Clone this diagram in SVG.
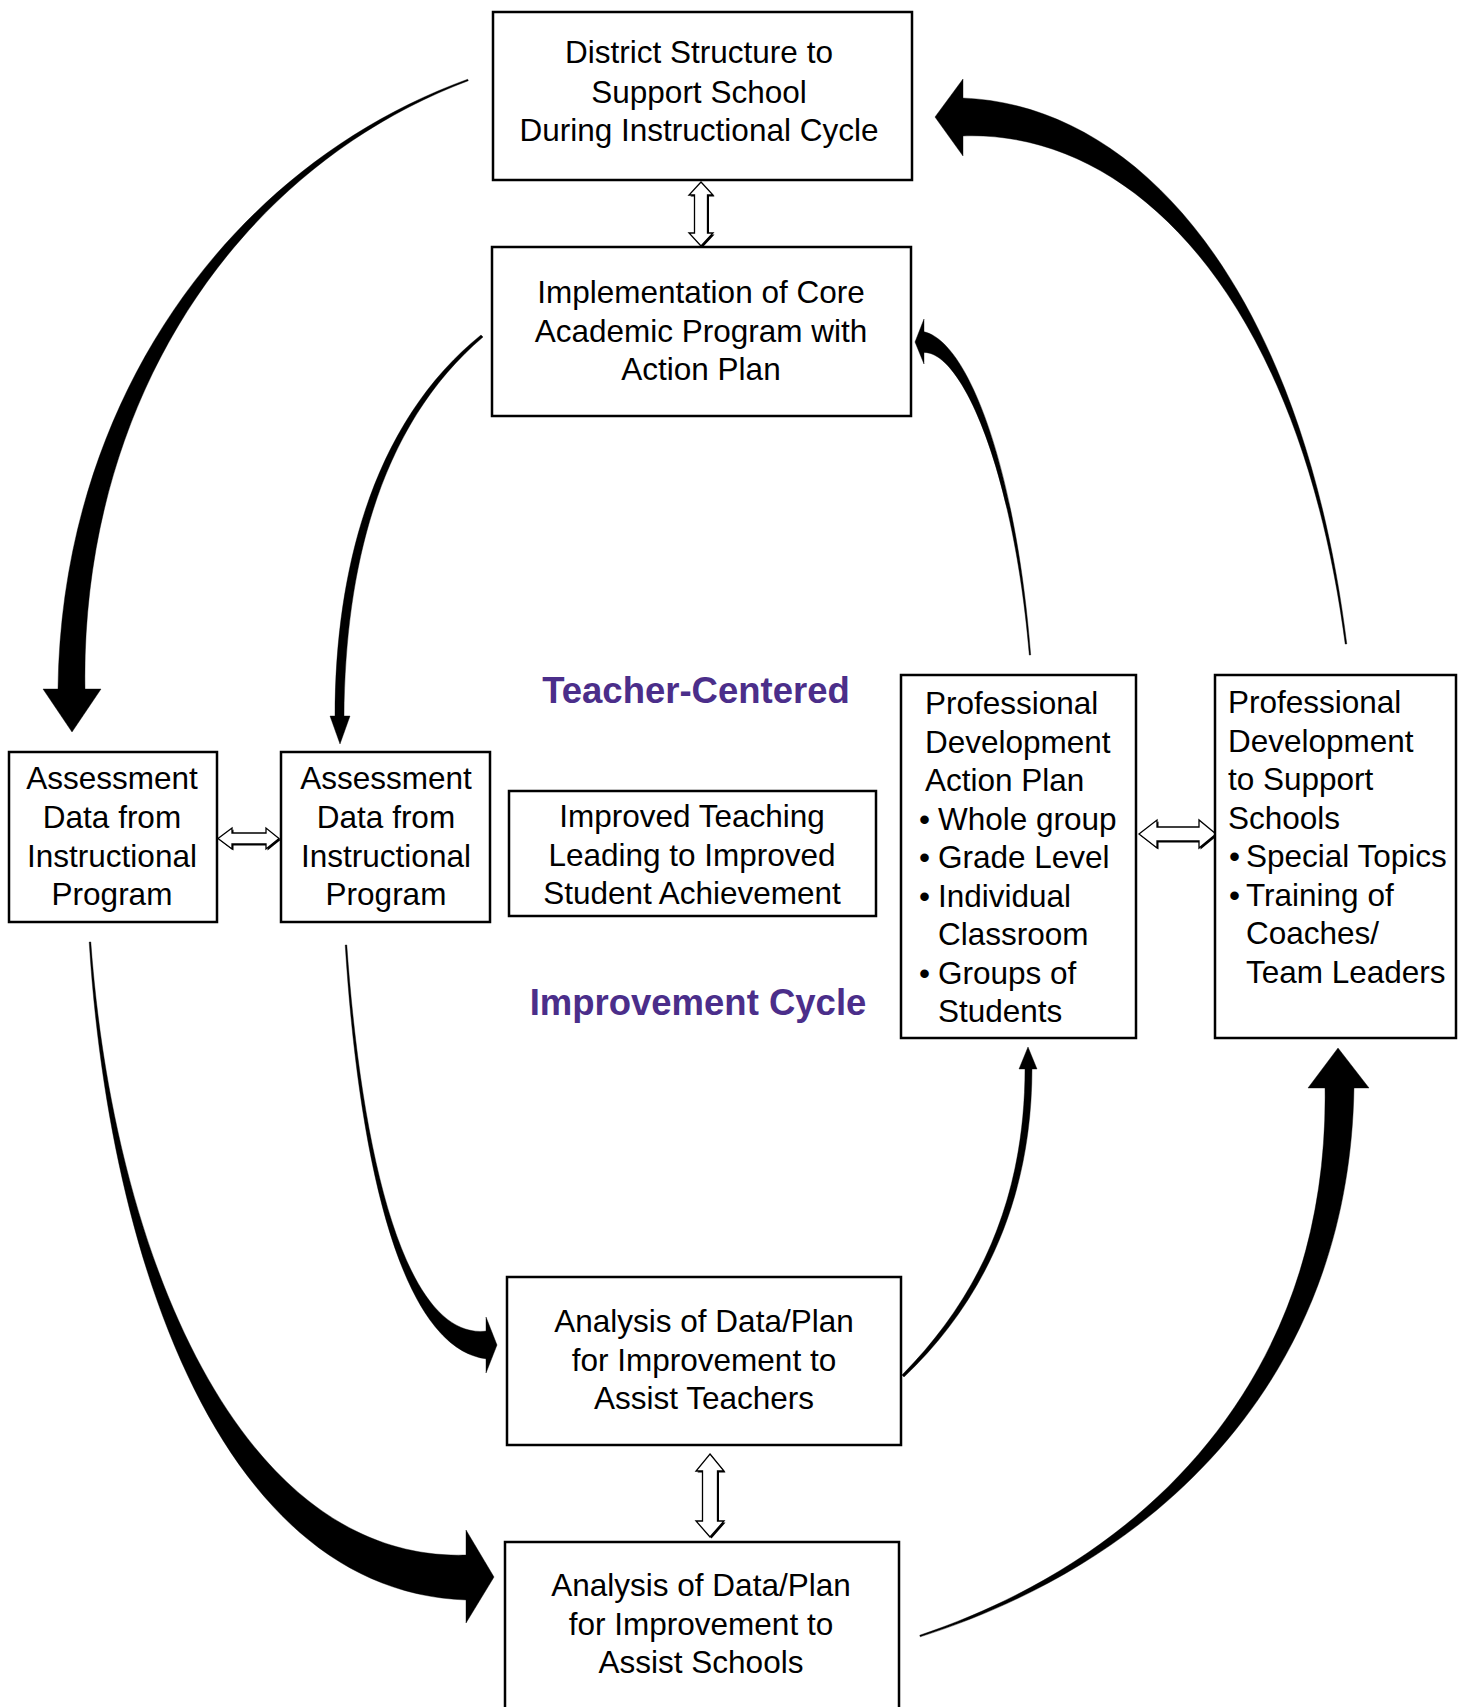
<svg xmlns="http://www.w3.org/2000/svg" width="1466" height="1707" viewBox="0 0 1466 1707">
<style>
.box{fill:#fff;stroke:#000;stroke-width:2.5}
.t{font-family:"Liberation Sans",Arial,sans-serif;font-size:31.5px;fill:#000}
.c{text-anchor:middle}
.p{font-family:"Liberation Sans",Arial,sans-serif;font-size:36.5px;font-weight:bold;fill:#4B2E8A;text-anchor:middle}
.arr{fill:#000;stroke:#000;stroke-width:0.4}
.dbl{fill:#fff;stroke:#000;stroke-width:1.3;stroke-linejoin:miter}
.sh{fill:#000}
</style>
<rect width="1466" height="1707" fill="#fff"/>
<g id="connectors">
  <!-- District -> Assessment 1 -->
  <path class="arr" d="M467.7,79.25 C228.5,166 61.4,402.1 58,689 L85,689 C80.6,407.9 231.5,170 468.3,80.75 Z"/>
  <polygon class="arr" points="43,689 101,689 72,732"/>
  <!-- Implementation -> Assessment 2 -->
  <path class="arr" d="M481,335 C378,418 335,560 335,717 L344,717 C345,560 383,422 483,337 Z"/>
  <polygon class="arr" points="330,716 350,716 340,744"/>
  <!-- PD Action Plan -> Implementation -->
  <path class="arr" d="M1030.7,654.9 C1016.2,469.7 968.5,340.2 923,331.5 L923,352.5 C961.5,349.8 1013.8,470.3 1029.3,655.1 Z"/>
  <polygon class="arr" points="915,342 924,319 924,364"/>
  <!-- PD Support -> District -->
  <path class="arr" d="M1346.8,643.9 C1303.8,299.2 1145.5,104.9 962,98 L962,136 C1134.5,129.1 1300.2,300.8 1345.2,644.1 Z"/>
  <polygon class="arr" points="935,117 963,79 963,156"/>
  <!-- Assessment 1 -> Analysis Schools -->
  <path class="arr" d="M89.2,942.05 C108.6,1255.5 219.7,1592.3 467,1600 L467,1555 C240.3,1562.7 113.4,1254.5 90.8,941.95 Z"/>
  <polygon class="arr" points="466,1530 466,1623 494,1577"/>
  <!-- Assessment 2 -> Analysis Teachers -->
  <path class="arr" d="M345.2,945.05 C358.5,1155.2 399.1,1348.7 487,1359 L487,1331 C404.9,1341.3 361.5,1154.8 346.8,944.95 Z"/>
  <polygon class="arr" points="486,1317 486,1373 497,1345"/>
  <!-- Analysis Teachers -> PD Action Plan -->
  <path class="arr" d="M904,1377 C983,1302 1032,1200 1032,1068 L1025,1068 C1025,1200 978,1298 902,1375 Z"/>
  <polygon class="arr" points="1019,1069 1037,1069 1028,1047"/>
  <!-- Analysis Schools -> PD Support -->
  <path class="arr" d="M920.25,1636.8 C1151.5,1563.6 1349.6,1384.3 1354,1087 L1325,1087 C1329.4,1375.7 1148.5,1558.4 919.75,1635.2 Z"/>
  <polygon class="arr" points="1308,1088 1369,1088 1338,1048"/>
  <!-- hollow double arrows -->
  <g transform="translate(1.5,1.5)">
    <polygon class="sh" points="701,182 713,195 707.5,195 707.5,233 713,233 701,246 689,233 694.5,233 694.5,195 689,195"/>
    <polygon class="sh" points="218,838.5 232,828 232,833 266,833 266,828 279,838.5 266,849 266,844 232,844 232,849"/>
    <polygon class="sh" points="1139,834 1157,820 1157,827 1199,827 1199,820 1216,834 1199,848 1199,841 1157,841 1157,848"/>
    <polygon class="sh" points="710,1454 724,1471 717.5,1471 717.5,1521 724,1521 710,1537 696,1521 702.5,1521 702.5,1471 696,1471"/>
  </g>
  <polygon class="dbl" points="701,182 713,195 707.5,195 707.5,233 713,233 701,246 689,233 694.5,233 694.5,195 689,195"/>
  <polygon class="dbl" points="218,838.5 232,828 232,833 266,833 266,828 279,838.5 266,849 266,844 232,844 232,849"/>
  <polygon class="dbl" points="1139,834 1157,820 1157,827 1199,827 1199,820 1216,834 1199,848 1199,841 1157,841 1157,848"/>
  <polygon class="dbl" points="710,1454 724,1471 717.5,1471 717.5,1521 724,1521 710,1537 696,1521 702.5,1521 702.5,1471 696,1471"/>
</g>
<g id="district">
  <rect class="box" x="493" y="12" width="419" height="168"/>
  <text class="t c" x="699" y="63">District Structure to</text>
  <text class="t c" x="699" y="102.5">Support School</text>
  <text class="t c" x="699" y="141">During Instructional Cycle</text>
</g>
<g id="implementation">
  <rect class="box" x="492" y="247" width="419" height="169"/>
  <text class="t c" x="701" y="303">Implementation of Core</text>
  <text class="t c" x="701" y="341.5">Academic Program with</text>
  <text class="t c" x="701" y="380">Action Plan</text>
</g>
<g id="assessment1">
  <rect class="box" x="9" y="752" width="208" height="170"/>
  <text class="t c" x="112" y="789">Assessment</text>
  <text class="t c" x="112" y="828">Data from</text>
  <text class="t c" x="112" y="866.5">Instructional</text>
  <text class="t c" x="112" y="905">Program</text>
</g>
<g id="assessment2">
  <rect class="box" x="281" y="752" width="209" height="170"/>
  <text class="t c" x="386" y="789">Assessment</text>
  <text class="t c" x="386" y="828">Data from</text>
  <text class="t c" x="386" y="866.5">Instructional</text>
  <text class="t c" x="386" y="905">Program</text>
</g>
<g id="improved">
  <rect class="box" x="509" y="791" width="367" height="125"/>
  <text class="t c" x="692" y="827">Improved Teaching</text>
  <text class="t c" x="692" y="865.5">Leading to Improved</text>
  <text class="t c" x="692" y="904">Student Achievement</text>
</g>
<g id="labels">
  <text class="p" x="696" y="703">Teacher-Centered</text>
  <text class="p" x="698" y="1015">Improvement Cycle</text>
</g>
<g id="pd-action-plan">
  <rect class="box" x="901" y="675" width="235" height="363"/>
  <text class="t" x="925" y="714">Professional</text>
  <text class="t" x="925" y="752.5">Development</text>
  <text class="t" x="925" y="791">Action Plan</text>
  <text class="t" y="829.5"><tspan x="919">•</tspan><tspan x="938">Whole group</tspan></text>
  <text class="t" y="868"><tspan x="919">•</tspan><tspan x="938">Grade Level</tspan></text>
  <text class="t" y="906.5"><tspan x="919">•</tspan><tspan x="938">Individual</tspan></text>
  <text class="t" x="938" y="945">Classroom</text>
  <text class="t" y="983.5"><tspan x="919">•</tspan><tspan x="938">Groups of</tspan></text>
  <text class="t" x="938" y="1022">Students</text>
</g>
<g id="pd-support">
  <rect class="box" x="1215" y="675" width="241" height="363"/>
  <text class="t" x="1228" y="713">Professional</text>
  <text class="t" x="1228" y="751.5">Development</text>
  <text class="t" x="1228" y="790">to Support</text>
  <text class="t" x="1228" y="828.5">Schools</text>
  <text class="t" y="867"><tspan x="1229">•</tspan><tspan x="1246">Special Topics</tspan></text>
  <text class="t" y="905.5"><tspan x="1229">•</tspan><tspan x="1246">Training of</tspan></text>
  <text class="t" x="1246" y="944">Coaches/</text>
  <text class="t" x="1246" y="982.5">Team Leaders</text>
</g>
<g id="analysis-teachers">
  <rect class="box" x="507" y="1277" width="394" height="168"/>
  <text class="t c" x="704" y="1332">Analysis of Data/Plan</text>
  <text class="t c" x="704" y="1371">for Improvement to</text>
  <text class="t c" x="704" y="1409">Assist Teachers</text>
</g>
<g id="analysis-schools">
  <rect class="box" x="505" y="1542" width="394" height="180"/>
  <text class="t c" x="701" y="1596">Analysis of Data/Plan</text>
  <text class="t c" x="701" y="1634.5">for Improvement to</text>
  <text class="t c" x="701" y="1673">Assist Schools</text>
</g>
</svg>
